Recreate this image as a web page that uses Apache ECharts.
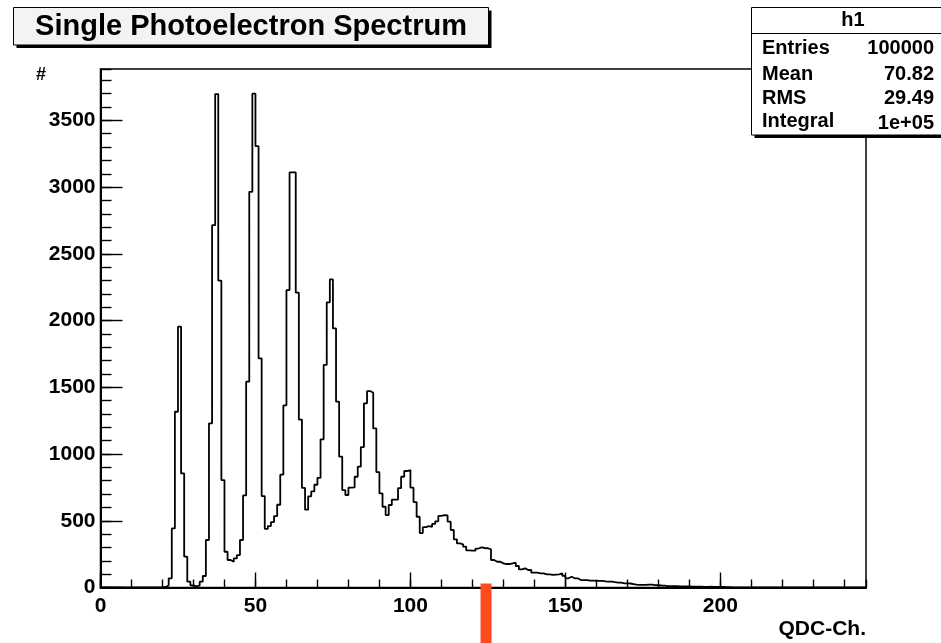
<!DOCTYPE html>
<html>
<head>
<meta charset="utf-8">
<script src="https://cdn.jsdelivr.net/npm/echarts@6/dist/echarts.min.js"></script>
<style>
  html, body { margin: 0; padding: 0; background: #ffffff; }
  #chart { width: 941px; height: 643px; }
</style>
</head>
<body>
<div id="chart"></div>
<script>
// QDC spectrum, one count per channel bin (bin k covers [k, k+1))
const binWidth = 1;
const counts = [
  0, 0, 0, 0, 0, 0, 0, 0, 0, 0,
  0, 0, 0, 0, 0, 0, 0, 0, 0, 0,
  4, 15, 69, 443, 1317, 1954, 855, 231, 44, 16,
  8, 15, 44, 86, 356, 1230, 2715, 3697, 2300, 805,
  268, 206, 193, 218, 243, 356, 690, 1542, 2965, 3700,
  3307, 1717, 685, 440, 460, 490, 535, 620, 845, 1365,
  2228, 3110, 3110, 2210, 1258, 746, 583, 683, 720, 770,
  822, 1110, 1668, 2137, 2308, 1941, 1392, 980, 730, 693,
  748, 750, 830, 905, 1052, 1380, 1472, 1459, 1192, 865,
  705, 605, 543, 618, 658, 658, 745, 830, 873, 880,
  748, 640, 530, 408, 452, 460, 455, 476, 496, 536,
  543, 540, 493, 431, 361, 330, 324, 306, 278, 276,
  276, 292, 301, 296, 294, 286, 206, 193, 193, 181,
  176, 176, 181, 186, 161, 136, 144, 131, 131, 111,
  111, 106, 106, 99, 99, 94, 97, 99, 106, 88,
  69, 81, 69, 69, 56, 56, 56, 51, 51, 49,
  49, 49, 46, 44, 44, 40, 37, 36, 31, 31,
  30, 26, 22, 19, 19, 20, 22, 21, 18, 17,
  15, 14, 11, 11, 10, 10, 9, 9, 8, 8,
  7, 6, 6, 6, 5, 5, 6, 5, 4, 4,
  4, 3, 2, 1, 1, 0, 0, 0, 0, 0,
  0, 0, 0, 0, 0, 0, 0, 0, 0, 0,
  0, 0, 0, 0, 0, 0, 0, 0, 0, 0,
  0, 0, 0, 0, 0, 0, 0, 0, 0, 0,
  0, 0, 0, 0, 0, 0, 0
];

// Axis ranges and tick spacing
const xRange = [0, 247];
const xMajorStep = 50;
const xMinorStep = 10;
const yRange = [0, 3885];
const yMajorStep = 500;
const yMinorStep = 100;

// Texts
const titleText = 'Single Photoelectron Spectrum';
const xTitle = 'QDC-Ch.';
const yTitle = '#';
const statsName = 'h1';
const statLabels = ['Entries', 'Mean', 'RMS', 'Integral'];
const statValues = ['100000', '70.82', '29.49', '1e+05'];

// Threshold marker on the channel axis
const markerChannel = 124.4;
const markerTopCount = 30;

const FONT = '"Liberation Sans", Arial, Helvetica, sans-serif';

// Step outline: each bin contributes its left edge; a closing point ends the last bin
const stepData = counts.map((c, k) => [k * binWidth, c]);
stepData.push([counts.length * binWidth, counts[counts.length - 1]]);

const chart = echarts.init(document.getElementById('chart'), null, { renderer: 'canvas' });

const labelStyle = {
  color: '#000', fontFamily: FONT, fontWeight: 'bold', fontSize: 21,
  formatter: (v) => String(v)
};

function xAxisDef(step, tickLen, withLabels) {
  return {
    type: 'value', position: 'bottom', gridIndex: 0,
    min: xRange[0], max: xRange[1], interval: step,
    axisLine: { show: withLabels, onZero: false, lineStyle: { color: '#000', width: 2 } },
    axisTick: { show: true, inside: true, length: tickLen, lineStyle: { color: '#000', width: 1.4 } },
    axisLabel: Object.assign({ show: withLabels, margin: 8, showMaxLabel: false }, labelStyle),
    splitLine: { show: false }
  };
}
function yAxisDef(step, tickLen, withLabels) {
  return {
    type: 'value', position: 'left', gridIndex: 0,
    min: yRange[0], max: yRange[1], interval: step,
    axisLine: { show: withLabels, onZero: false, lineStyle: { color: '#000', width: 2 } },
    axisTick: { show: true, inside: true, length: tickLen, lineStyle: { color: '#000', width: 1.4 } },
    axisLabel: Object.assign({ show: withLabels, margin: 5, showMaxLabel: false }, labelStyle),
    splitLine: { show: false }
  };
}

chart.setOption({
  animation: false,
  backgroundColor: '#ffffff',
  grid: {
    left: 100.5, right: 75, top: 69, bottom: 55.5,
    show: true, borderColor: '#000', borderWidth: 1.5, backgroundColor: '#ffffff'
  },
  xAxis: [xAxisDef(xMajorStep, 15, true), xAxisDef(xMinorStep, 8, false)],
  yAxis: [yAxisDef(yMajorStep, 22, true), yAxisDef(yMinorStep, 11, false)],
  series: [{
    type: 'line',
    xAxisIndex: 0, yAxisIndex: 0,
    data: stepData,
    step: 'end',
    symbol: 'none',
    lineStyle: { color: '#000', width: 1.8 },
    z: 5
  }]
});

// Boxes and axis titles
const mx = chart.convertToPixel({ xAxisIndex: 0 }, markerChannel);
const my = chart.convertToPixel({ yAxisIndex: 0 }, markerTopCount);

const statFont = 'bold 20px ' + FONT;
const statRowsY = [48, 74, 98, 121];
const graphics = [
  // title box with drop shadow
  { type: 'rect', z: 100, shape: { x: 16.5, y: 10.5, width: 475, height: 37.5 }, style: { fill: '#000' } },
  { type: 'rect', z: 101, shape: { x: 13.5, y: 7.5, width: 475, height: 37.5 }, style: { fill: '#f3f3f3', stroke: '#000', lineWidth: 1 } },
  { type: 'text', z: 102, x: 251, y: 27, style: { text: titleText, fill: '#000', font: 'bold 29px ' + FONT, textAlign: 'center', textVerticalAlign: 'middle' } },
  // statistics box with drop shadow
  { type: 'rect', z: 100, shape: { x: 754.5, y: 10.5, width: 200, height: 127.5 }, style: { fill: '#000' } },
  { type: 'rect', z: 101, shape: { x: 751.5, y: 7.5, width: 200, height: 127.5 }, style: { fill: '#ffffff', stroke: '#000', lineWidth: 1 } },
  { type: 'line', z: 102, shape: { x1: 751.5, y1: 33.5, x2: 941, y2: 33.5 }, style: { stroke: '#000', lineWidth: 1 } },
  { type: 'text', z: 102, x: 853, y: 20.5, style: { text: statsName, fill: '#000', font: statFont, textAlign: 'center', textVerticalAlign: 'middle' } },
  // axis titles
  { type: 'text', z: 102, x: 41, y: 75, style: { text: yTitle, fill: '#000', font: 'bold 18px ' + FONT, textAlign: 'center', textVerticalAlign: 'middle' } },
  { type: 'text', z: 102, x: 866, y: 629, style: { text: xTitle, fill: '#000', font: 'bold 21px ' + FONT, textAlign: 'right', textVerticalAlign: 'middle' } },
  // threshold marker
  { type: 'rect', z: 103, shape: { x: mx - 5.5, y: my, width: 11, height: 643 - my }, style: { fill: '#ff4a1e' } }
];
statLabels.forEach((lab, i) => {
  graphics.push({ type: 'text', z: 102, x: 762, y: statRowsY[i], style: { text: lab, fill: '#000', font: statFont, textAlign: 'left', textVerticalAlign: 'middle' } });
  graphics.push({ type: 'text', z: 102, x: 934, y: statRowsY[i] + (i === 3 ? 2 : 0), style: { text: statValues[i], fill: '#000', font: statFont, textAlign: 'right', textVerticalAlign: 'middle' } });
});

chart.setOption({ graphic: graphics });
</script>
</body>
</html>
